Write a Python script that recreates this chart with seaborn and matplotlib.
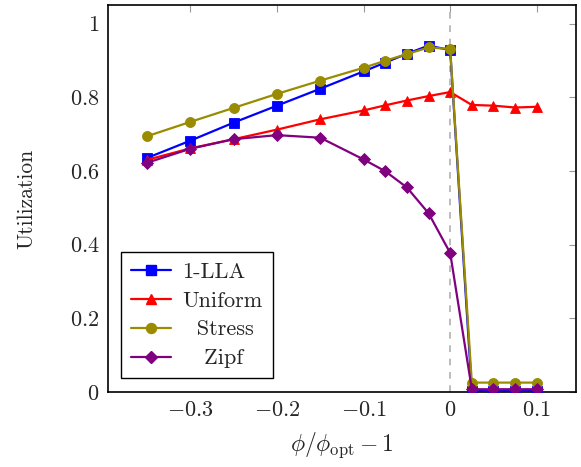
import pandas as pd
import seaborn as sns
import matplotlib.pyplot as plt
from matplotlib.ticker import FuncFormatter

sns.set_style("white")
plt.rcParams["font.family"] = ["cmr10"]
plt.rcParams["mathtext.fontset"] = "cm"
plt.rcParams["axes.formatter.use_mathtext"] = True
plt.rcParams["axes.unicode_minus"] = True

X = [-0.35, -0.3, -0.25, -0.2, -0.15, -0.1, -0.075, -0.05, -0.025, 0.0,
     0.025, 0.05, 0.075, 0.1]

LLA = [0.635, 0.682, 0.731, 0.777, 0.823, 0.870, 0.894, 0.918, 0.940, 0.928,
       0.002, 0.002, 0.002, 0.002]
UNIFORM = [0.630, 0.661, 0.686, 0.712, 0.740, 0.764, 0.778, 0.791, 0.803, 0.814,
           0.779, 0.777, 0.772, 0.774]
STRESS = [0.694, 0.733, 0.771, 0.809, 0.845, 0.880, 0.899, 0.917, 0.935, 0.931,
          0.025, 0.025, 0.025, 0.025]
ZIPF = [0.622, 0.660, 0.686, 0.697, 0.690, 0.631, 0.599, 0.555, 0.485, 0.377,
        0.007, 0.007, 0.007, 0.007]

NAMES = ["1-LLA", "Uniform", "Stress", "Zipf"]
COLORS = ["#0000ff", "#ff0000", "#998c00", "#800080"]
MARKERS = ["s", "^", "o", "D"]


def main():
  frames = []
  for name, ys in zip(NAMES, [LLA, UNIFORM, STRESS, ZIPF]):
    frames.append(pd.DataFrame({"x": X, "y": ys, "method": name}))
  data = pd.concat(frames, ignore_index=True)

  fig = plt.figure(figsize=(5.81, 4.67), dpi=100)
  ax = fig.add_axes([0.186, 0.161, 0.805, 0.828])

  ax.axvline(0, color="#b0b0b0", linestyle=(0, (4, 4)), linewidth=1.2, zorder=1)

  sns.lineplot(data=data, x="x", y="y", hue="method", style="method",
               palette=dict(zip(NAMES, COLORS)), markers=dict(zip(NAMES, MARKERS)),
               dashes=False, linewidth=1.6, markersize=7.2, markeredgewidth=0.6,
               hue_order=NAMES, style_order=NAMES, ax=ax, legend=False, zorder=3)
  for line, m in zip(ax.lines[1:], MARKERS):
    line.set_markeredgecolor(line.get_color())
    if m == "D":
      line.set_markersize(6.4)

  ax.set_xlim(-0.395, 0.145)
  ax.set_ylim(0, 1.05)
  ax.set_xticks([-0.3, -0.2, -0.1, 0, 0.1])
  ax.set_yticks([0, 0.2, 0.4, 0.6, 0.8, 1.0])
  fmt = FuncFormatter(lambda v, p: "$%g$" % round(v, 3) if abs(v) > 1e-9 else "$0$")
  ax.xaxis.set_major_formatter(fmt)
  ax.yaxis.set_major_formatter(fmt)
  ax.tick_params(direction="in", length=5, width=0.8, color="#999999",
                 top=True, right=True, labelsize=16, pad=6)
  for s in ax.spines.values():
    s.set_color("black")
    s.set_linewidth(1.2)

  ax.set_xlabel(r"$\phi/\phi_{\mathrm{opt}} - 1$", fontsize=17, labelpad=8)
  ax.set_ylabel("Utilization", fontsize=15.5, labelpad=24)

  handles = [plt.Line2D([], [], color=c, marker=m, linewidth=1.6,
                        markersize=(6.4 if m == "D" else 7.2), markeredgecolor=c)
             for c, m in zip(COLORS, MARKERS)]
  labels = ["1-LLA", "Uniform", "  Stress", "   Zipf"]
  leg = ax.legend(handles, labels, loc="lower left", bbox_to_anchor=(0.028, 0.035),
                  borderaxespad=0, fancybox=False, framealpha=1, edgecolor="black",
                  fontsize=16, handlelength=1.8, labelspacing=0.42,
                  handletextpad=0.5, borderpad=0.45)
  leg.get_frame().set_linewidth(1.0)

  plt.savefig("out.png", dpi=100)


if __name__ == "__main__":
  main()
